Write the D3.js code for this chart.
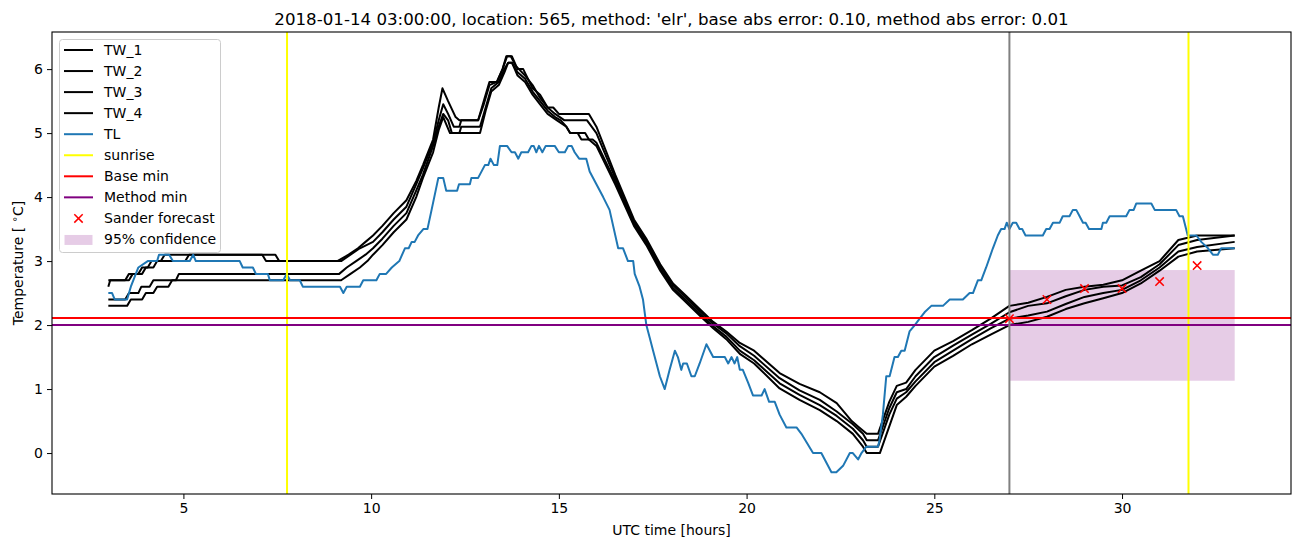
<!DOCTYPE html>
<html><head><meta charset="utf-8">
<script src="https://cdn.jsdelivr.net/npm/d3@7"></script>
<style>body{margin:0;background:#fff;} text{font-family:"DejaVu Sans",sans-serif;}</style>
</head><body>
<svg id="chart" width="1302" height="547"></svg>
<script>
// ---- data ----
const titleText = "2018-01-14 03:00:00, location: 565, method: 'elr', base abs error: 0.10, method abs error: 0.01";
const xTicks = [5, 10, 15, 20, 25, 30];
const yTicks = [0, 1, 2, 3, 4, 5, 6];
const xDomain = [1.5, 34.5];
const yDomain = [-0.64, 6.58];

const tl = [[3.0,2.5],[3.1,2.5],[3.17,2.4],[3.5,2.4],[3.6,2.6],[3.8,2.9],[4.05,3.0],[4.3,3.0],[4.35,3.1],[4.62,3.1],[4.72,3.0],[5.17,3.0],[5.26,3.1],[5.33,3.0],[6.5,3.0],[6.58,2.9],[6.85,2.9],[6.93,2.8],[7.25,2.8],[7.3,2.7],[7.66,2.7],[7.75,2.8],[7.84,2.7],[8.1,2.7],[8.18,2.6],[9.17,2.6],[9.26,2.5],[9.35,2.6],[9.7,2.6],[9.79,2.7],[10.14,2.7],[10.23,2.8],[10.4,2.8],[10.55,2.9],[10.75,3.0],[10.9,3.2],[11.0,3.2],[11.08,3.3],[11.16,3.3],[11.25,3.4],[11.39,3.5],[11.5,3.5],[11.61,3.8],[11.79,4.3],[11.92,4.3],[12.0,4.1],[12.29,4.1],[12.34,4.2],[12.63,4.2],[12.67,4.3],[12.85,4.3],[13.03,4.5],[13.12,4.5],[13.18,4.6],[13.27,4.5],[13.36,4.5],[13.43,4.8],[13.62,4.8],[13.74,4.7],[13.83,4.7],[13.92,4.6],[14.0,4.7],[14.18,4.7],[14.27,4.8],[14.33,4.8],[14.4,4.7],[14.47,4.8],[14.56,4.7],[14.65,4.8],[14.89,4.8],[15.0,4.7],[15.16,4.7],[15.25,4.8],[15.34,4.8],[15.42,4.7],[15.54,4.6],[15.73,4.6],[15.82,4.4],[16.0,4.2],[16.18,4.0],[16.35,3.8],[16.58,3.2],[16.71,3.2],[16.84,3.0],[16.98,3.0],[17.02,2.8],[17.15,2.6],[17.24,2.4],[17.33,2.0],[17.42,1.8],[17.51,1.6],[17.6,1.4],[17.69,1.2],[17.82,1.0],[17.95,1.3],[18.09,1.6],[18.17,1.5],[18.26,1.3],[18.31,1.4],[18.41,1.4],[18.53,1.2],[18.62,1.2],[18.75,1.4],[18.93,1.7],[19.11,1.5],[19.42,1.5],[19.51,1.4],[19.6,1.5],[19.68,1.4],[19.75,1.5],[19.82,1.3],[19.9,1.3],[20.04,1.1],[20.17,0.9],[20.4,0.9],[20.48,1.0],[20.6,0.8],[20.75,0.8],[20.88,0.6],[21.06,0.4],[21.33,0.4],[21.46,0.3],[21.77,0.0],[21.99,0.0],[22.26,-0.3],[22.39,-0.3],[22.57,-0.2],[22.75,0.0],[22.83,0.0],[22.97,-0.1],[23.06,0.0],[23.19,0.1],[23.5,0.1],[23.54,0.2],[23.63,0.6],[23.72,1.2],[23.81,1.2],[23.94,1.5],[24.03,1.5],[24.12,1.6],[24.21,1.6],[24.34,1.9],[24.48,2.0],[24.61,2.1],[24.74,2.2],[24.92,2.3],[25.23,2.3],[25.41,2.4],[25.76,2.4],[25.94,2.5],[26.03,2.5],[26.16,2.7],[26.25,2.7],[26.38,2.9],[26.56,3.2],[26.69,3.4],[26.78,3.5],[26.87,3.5],[26.93,3.6],[27.0,3.5],[27.09,3.6],[27.18,3.6],[27.27,3.5],[27.34,3.5],[27.43,3.4],[27.89,3.4],[27.98,3.5],[28.07,3.5],[28.16,3.6],[28.34,3.6],[28.42,3.7],[28.6,3.7],[28.69,3.8],[28.78,3.8],[28.87,3.7],[28.96,3.6],[29.03,3.6],[29.12,3.5],[29.45,3.5],[29.49,3.6],[29.58,3.6],[29.67,3.7],[30.11,3.7],[30.2,3.8],[30.31,3.8],[30.38,3.9],[30.78,3.9],[30.87,3.8],[31.44,3.8],[31.53,3.7],[31.62,3.7],[31.75,3.4],[31.98,3.4],[32.11,3.3],[32.29,3.2],[32.42,3.1],[32.55,3.1],[32.64,3.2],[33.0,3.2]];

const tw1 = [[3.0,2.6],[3.05,2.7],[3.45,2.7],[3.55,2.8],[3.8,2.8],[3.9,2.9],[4.05,2.9],[4.15,3.0],[4.4,3.0],[4.5,3.1],[7.1,3.1],[7.2,3.0],[9.1,3.0],[9.4,3.1],[9.65,3.2],[9.85,3.3],[10.05,3.4],[10.3,3.55],[10.6,3.75],[10.94,3.95],[11.2,4.25],[11.38,4.5],[11.65,4.9],[11.8,5.4],[11.9,5.7],[12.05,5.5],[12.25,5.25],[12.35,5.2],[12.85,5.2],[13.0,5.5],[13.15,5.8],[13.35,5.8],[13.5,6.0],[13.6,6.2],[13.75,6.2],[13.9,6.0],[14.05,6.0],[14.3,5.7],[14.5,5.6],[14.7,5.4],[14.85,5.4],[15.0,5.3],[15.8,5.3],[16.0,5.1],[16.5,4.35],[17.0,3.65],[17.33,3.35],[17.7,2.95],[18.04,2.65],[18.4,2.45],[18.75,2.25],[19.11,2.05],[19.46,1.9],[19.82,1.72],[20.2,1.6],[20.88,1.25],[21.41,1.08],[21.95,0.95],[22.4,0.78],[22.8,0.5],[23.0,0.4],[23.2,0.3],[23.5,0.3],[23.8,0.8],[24.0,1.05],[24.25,1.1],[24.5,1.3],[25.0,1.6],[25.5,1.75],[26.0,1.92],[26.5,2.1],[27.0,2.3],[27.5,2.35],[28.0,2.44],[28.5,2.55],[29.0,2.6],[29.5,2.63],[30.0,2.7],[30.5,2.85],[31.0,3.0],[31.5,3.33],[32.0,3.4],[33.0,3.4]];
const tw2 = [[3.0,2.7],[3.55,2.7],[3.65,2.8],[3.9,2.8],[4.0,2.9],[4.2,2.9],[4.3,3.0],[5.05,3.0],[5.15,3.1],[7.45,3.1],[7.55,3.0],[9.2,3.0],[9.45,3.1],[9.7,3.2],[10.05,3.3],[10.3,3.45],[10.6,3.65],[10.94,3.85],[11.2,4.2],[11.38,4.45],[11.65,4.85],[11.8,5.2],[11.92,5.45],[12.05,5.3],[12.2,5.1],[12.35,5.1],[12.4,5.2],[12.85,5.2],[13.0,5.45],[13.15,5.75],[13.35,5.8],[13.5,6.0],[13.62,6.2],[13.72,6.2],[13.85,6.05],[14.1,5.9],[14.3,5.75],[14.5,5.55],[14.7,5.4],[14.9,5.3],[15.15,5.2],[15.75,5.2],[16.0,5.0],[16.5,4.3],[17.0,3.62],[17.33,3.32],[17.7,2.92],[18.04,2.62],[18.4,2.42],[18.75,2.22],[19.11,2.02],[19.46,1.87],[19.82,1.67],[20.2,1.52],[20.88,1.17],[21.41,0.98],[21.95,0.83],[22.4,0.65],[22.83,0.45],[23.1,0.3],[23.2,0.2],[23.5,0.2],[23.8,0.7],[24.0,0.95],[24.25,1.0],[24.5,1.2],[25.0,1.5],[25.5,1.68],[26.0,1.85],[26.5,2.02],[27.0,2.2],[27.5,2.3],[28.0,2.34],[28.5,2.45],[29.0,2.55],[29.5,2.6],[30.0,2.62],[30.5,2.75],[31.0,2.95],[31.5,3.25],[32.0,3.33],[33.0,3.4]];
const tw3 = [[3.0,2.3],[3.5,2.3],[3.6,2.4],[3.9,2.4],[4.0,2.5],[4.2,2.5],[4.3,2.6],[4.6,2.6],[4.7,2.7],[4.8,2.7],[4.88,2.8],[9.15,2.8],[9.35,2.9],[9.6,3.0],[9.85,3.1],[10.05,3.2],[10.3,3.35],[10.6,3.55],[10.94,3.75],[11.2,4.1],[11.38,4.35],[11.65,4.8],[11.8,5.1],[11.92,5.3],[12.05,5.2],[12.15,5.0],[12.35,5.0],[12.4,5.1],[12.9,5.1],[13.05,5.4],[13.2,5.7],[13.4,5.8],[13.55,6.0],[13.65,6.1],[13.75,6.1],[13.9,5.95],[14.1,5.85],[14.3,5.65],[14.5,5.5],[14.7,5.35],[14.9,5.25],[15.05,5.2],[15.2,5.1],[15.3,5.0],[15.5,5.0],[15.6,4.9],[15.9,4.9],[16.0,4.85],[16.5,4.25],[17.0,3.58],[17.33,3.28],[17.7,2.88],[18.04,2.58],[18.4,2.38],[18.75,2.18],[19.11,1.98],[19.46,1.82],[19.82,1.6],[20.2,1.45],[20.88,1.09],[21.41,0.91],[21.95,0.75],[22.4,0.58],[22.83,0.38],[23.1,0.2],[23.2,0.1],[23.5,0.1],[23.8,0.6],[24.0,0.85],[24.25,0.95],[24.5,1.12],[25.0,1.42],[25.5,1.6],[26.0,1.78],[26.5,1.95],[27.0,2.1],[27.5,2.15],[28.0,2.21],[28.5,2.33],[29.0,2.44],[29.5,2.5],[30.0,2.55],[30.5,2.7],[31.0,2.9],[31.5,3.15],[32.0,3.22],[33.0,3.3]];
const tw4 = [[3.0,2.4],[3.45,2.4],[3.55,2.5],[3.8,2.5],[3.88,2.6],[4.1,2.6],[4.2,2.7],[9.2,2.7],[9.45,2.8],[9.7,2.9],[9.9,3.0],[10.05,3.1],[10.3,3.25],[10.6,3.45],[10.94,3.65],[11.2,4.0],[11.38,4.3],[11.65,4.7],[11.8,5.05],[11.92,5.25],[12.1,5.0],[12.9,5.0],[13.05,5.35],[13.2,5.65],[13.4,5.75],[13.55,5.95],[13.65,6.1],[13.75,6.1],[13.9,5.9],[14.1,5.8],[14.3,5.6],[14.5,5.45],[14.7,5.3],[14.95,5.2],[15.2,5.1],[15.3,5.0],[15.7,5.0],[15.8,4.9],[16.0,4.8],[16.5,4.2],[17.0,3.55],[17.33,3.25],[17.7,2.85],[18.04,2.55],[18.4,2.35],[18.75,2.15],[19.11,1.95],[19.46,1.78],[19.82,1.55],[20.2,1.4],[20.88,1.01],[21.41,0.83],[21.95,0.67],[22.4,0.5],[22.83,0.3],[23.1,0.1],[23.2,0.0],[23.55,0.0],[23.85,0.5],[24.0,0.75],[24.25,0.88],[24.5,1.05],[25.0,1.35],[25.5,1.52],[26.0,1.7],[26.5,1.85],[27.0,2.0],[27.5,2.05],[28.0,2.13],[28.5,2.25],[29.0,2.34],[29.5,2.42],[30.0,2.5],[30.5,2.65],[31.0,2.85],[31.5,3.07],[32.0,3.15],[33.0,3.2]];

const sunriseHours = [7.76, 31.77];
const nowHour = 27.0;
const baseMin = 2.11;
const methodMin = 2.0;
const forecastHours = [27, 28, 29, 30, 31, 32];
const forecastTemps = [2.1, 2.4, 2.57, 2.57, 2.68, 2.93];
const confHours = [27, 33];
const confLow = 1.13;
const confHigh = 2.86;
const legendLabels = ["TW_1","TW_2","TW_3","TW_4","TL","sunrise","Base min","Method min","Sander forecast","95% confidence"];

// ---- drawing ----
const svg = d3.select("#chart");
const L = 52, R = 1291, T = 32, B = 494;
const x = d3.scaleLinear().domain(xDomain).range([L, R]);
const y = d3.scaleLinear().domain(yDomain).range([B, T]);

svg.append("defs").append("clipPath").attr("id","clip")
  .append("rect").attr("x",L).attr("y",T).attr("width",R-L).attr("height",B-T);
const g = svg.append("g").attr("clip-path","url(#clip)");

// confidence band
g.append("rect")
  .attr("x", x(confHours[0])).attr("width", x(confHours[1]) - x(confHours[0]))
  .attr("y", y(confHigh)).attr("height", y(confLow) - y(confHigh))
  .attr("fill", "purple").attr("fill-opacity", 0.2);

const line = d3.line().x(d => x(d[0])).y(d => y(d[1]));
[tw1, tw2, tw3, tw4].forEach(s => {
  g.append("path").attr("d", line(s)).attr("fill","none").attr("stroke","#000")
   .attr("stroke-width",2).attr("stroke-linejoin","round");
});
g.append("path").attr("d", line(tl)).attr("fill","none").attr("stroke","#1f77b4")
 .attr("stroke-width",2).attr("stroke-linejoin","round");

sunriseHours.forEach(h => {
  g.append("line").attr("x1",x(h)).attr("x2",x(h)).attr("y1",T).attr("y2",B)
   .attr("stroke","yellow").attr("stroke-width",2);
});
g.append("line").attr("x1",x(xDomain[0])).attr("x2",x(xDomain[1])).attr("y1",y(baseMin)).attr("y2",y(baseMin))
 .attr("stroke","red").attr("stroke-width",2);
g.append("line").attr("x1",x(xDomain[0])).attr("x2",x(xDomain[1])).attr("y1",y(methodMin)).attr("y2",y(methodMin))
 .attr("stroke","purple").attr("stroke-width",2);
g.append("line").attr("x1",x(nowHour)).attr("x2",x(nowHour)).attr("y1",T).attr("y2",B)
 .attr("stroke","gray").attr("stroke-width",2);

function xMark(sel, cx, cy, r) {
  sel.append("path").attr("d", `M${cx-r},${cy-r}L${cx+r},${cy+r}M${cx-r},${cy+r}L${cx+r},${cy-r}`)
    .attr("stroke","red").attr("stroke-width",1.5).attr("fill","none");
}
forecastHours.forEach((h, i) => xMark(g, x(h), y(forecastTemps[i]), 4.2));

// axes
const xAxis = svg.append("g").attr("transform",`translate(0,${B})`)
  .call(d3.axisBottom(x).tickValues(xTicks).tickSize(5).tickPadding(4).tickFormat(d3.format("d")));
const yAxis = svg.append("g").attr("transform",`translate(${L},0)`)
  .call(d3.axisLeft(y).tickValues(yTicks).tickSize(5).tickPadding(4).tickFormat(d3.format("d")));
[xAxis, yAxis].forEach(a => {
  a.select(".domain").remove();
  a.selectAll("text").attr("font-size",14).attr("font-family","DejaVu Sans").attr("fill","#000");
  a.selectAll("line").attr("stroke","#000").attr("stroke-width",1);
});
svg.append("rect").attr("x",L).attr("y",T).attr("width",R-L).attr("height",B-T)
  .attr("fill","none").attr("stroke","#000").attr("stroke-width",1.1);

// labels
svg.append("text").attr("x",(L+R)/2).attr("y",25).attr("text-anchor","middle")
  .attr("font-size",16.67).text(titleText);
svg.append("text").attr("x",(L+R)/2).attr("y",535).attr("text-anchor","middle")
  .attr("font-size",14).text("UTC time [hours]");
const yl = svg.append("text").attr("transform",`translate(23,${(T+B)/2}) rotate(-90)`)
  .attr("text-anchor","middle").attr("font-size",14);
yl.append("tspan").text("Temperature [ ");
yl.append("tspan").attr("font-size",10).attr("dy",-5).text("∘");
yl.append("tspan").attr("dy",5).text("C]");

// legend
const lg = svg.append("g");
lg.append("rect").attr("x",59.5).attr("y",39.5).attr("width",161).attr("height",213).attr("rx",3)
  .attr("fill","#fff").attr("fill-opacity",0.8).attr("stroke","#cccccc").attr("stroke-width",1);
const legendColors = ["#000","#000","#000","#000","#1f77b4","yellow","red","purple"];
legendLabels.forEach((lab, i) => {
  const cy = 50 + i * 21.05;
  if (i < 8) {
    lg.append("line").attr("x1",64).attr("x2",93).attr("y1",cy).attr("y2",cy)
      .attr("stroke",legendColors[i]).attr("stroke-width",2);
  } else if (i === 8) {
    xMark(lg, 78.5, cy, 4.2);
  } else {
    lg.append("rect").attr("x",64.5).attr("y",cy-4.5).attr("width",28).attr("height",10)
      .attr("fill","purple").attr("fill-opacity",0.2);
  }
  lg.append("text").attr("x",104).attr("y",cy+5).attr("font-size",14).text(lab);
});
</script>
</body></html>
